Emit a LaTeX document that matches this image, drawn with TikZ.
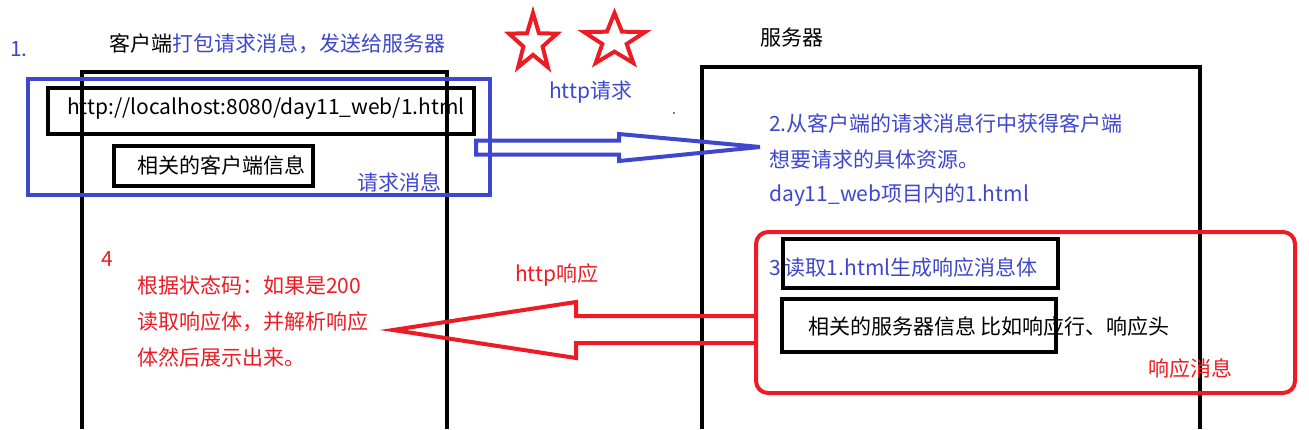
\documentclass[tikz,border=0pt]{standalone}
\usepackage{fontspec}
\setmainfont{Noto Sans CJK SC}
\definecolor{pblue}{HTML}{3F48CC}
\definecolor{pred}{HTML}{ED1C24}
\begin{document}
\begin{tikzpicture}[x=1pt,y=-1pt,
  txt/.style={inner sep=0pt, anchor=west, font=\fontsize{21}{25}\selectfont},
  btxt/.style={txt, text=pblue},
  rtxt/.style={txt, text=pred},
  kbox/.style={draw=black, line width=4.5pt, inner sep=0pt},
  bline/.style={draw=pblue, line width=4.5pt},
  rline/.style={draw=pred, line width=4pt},
  kline/.style={draw=black, line width=4.5pt}]
\useasboundingbox (0,0) rectangle (1309,429);
\fill[white] (0,0) rectangle (1309,429);

% client and server frames
\draw[kline] (82,429) -- (82,72) -- (447,72) -- (447,429);
\draw[kline] (702,429) -- (702,67) -- (1200,67) -- (1200,429);

% headings
\node[btxt] (n1) at (10,49) {1.};
\node[txt] (chead) at (109,44) {客户端\textcolor{pblue}{打包请求消息，发送给服务器}};
\node[txt] (shead) at (760,38) {服务器};

% stars
\draw[rline, line join=miter] plot[samples at={0,...,9}, variable=\t]
  ({533+25.2*ifthenelse(mod(\t,2)==0,1,0.4)*cos(90+36*\t)},
   {42.9-29.9*ifthenelse(mod(\t,2)==0,1,0.4)*sin(90+36*\t)}) -- cycle;
\draw[rline, line join=miter] plot[samples at={0,...,9}, variable=\t]
  ({614.5+32*ifthenelse(mod(\t,2)==0,1,0.4)*cos(90+36*\t)},
   {40.6-27.6*ifthenelse(mod(\t,2)==0,1,0.4)*sin(90+36*\t)}) -- cycle;

% request message
\node[bline, minimum width=462pt, minimum height=116pt, inner sep=0pt] (reqmsg) at (259,137) {};
\node[kbox, minimum width=426pt, minimum height=46pt] (urlbox) at (261,111) {};
\node[txt] (url) at (67,109) {http://localhost:8080/day11\_web/1.html};
\node[kbox, minimum width=199pt, minimum height=40pt] (cinfobox) at (213.5,166) {};
\node[txt] (cinfo) at (137,165) {相关的客户端信息};
\node[btxt] (reqlbl) at (357,182) {请求消息};

% http request arrow
\node[btxt] (httpreq) at (549,92) {http请求};
\fill (674,113) circle (0.8);
\coordinate (reqtip) at (760,147);
\draw[bline, line width=4pt] (476,140.5) -- (619,140.5) -- (619,134) -- (reqtip)
  -- (619,161) -- (619,154.5) -- (476,154.5) -- cycle;

% server text
\node[btxt] (s1) at (769,123) {2.从客户端的请求消息行中获得客户端};
\node[btxt] (s2) at (769,159) {想要请求的具体资源。};
\node[btxt] (s3) at (769,195) {day11\_web项目内的1.html};

% response message
\node[draw=pred, line width=4pt, rounded corners=12pt, minimum width=539pt, minimum height=161pt, inner sep=0pt] (respmsg) at (1025.5,312.5) {};
\node[kbox, minimum width=275pt, minimum height=49pt] (bodybox) at (920.5,263.5) {};
\node[btxt] (s3t) at (769,267) {3\hspace{4pt}读取1.html生成响应消息体};
\node[kbox, minimum width=274pt, minimum height=53pt] (sinfobox) at (919,325.5) {};
\node[txt] (sinfo) at (808,326) {相关的服务器信息 比如响应行、响应头};
\node[rtxt] (resplbl) at (1148,368) {响应消息};

% http response arrow
\node[rtxt] (httpresp) at (515,275) {http响应};
\coordinate (resptip) at (393,330);
\draw[rline, line join=miter] (respmsg.west |- 0,316) -- (576,316) -- (576,302) -- (resptip)
  -- (576,358) -- (576,343) -- (respmsg.west |- 0,343);

% client text
\node[rtxt] (n4) at (101,259) {4};
\node[rtxt] (c1) at (137,285) {根据状态码：如果是200};
\node[rtxt] (c2) at (137,322) {读取响应体，并解析响应};
\node[rtxt] (c3) at (137,357) {体然后展示出来。};
\end{tikzpicture}
\end{document}
